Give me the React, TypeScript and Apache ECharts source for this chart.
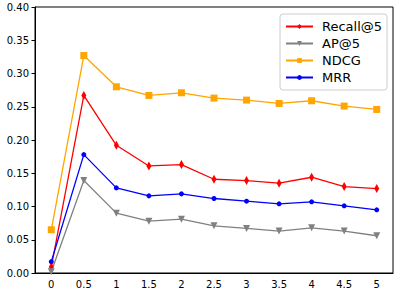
import React, { useEffect, useRef } from "react";
import * as echarts from "echarts";

const categories = ["0", "0.5", "1", "1.5", "2", "2.5", "3", "3.5", "4", "4.5", "5"];
const recall = [0.009, 0.267, 0.192, 0.161, 0.163, 0.141, 0.139, 0.135, 0.144, 0.130, 0.127];
const ap = [0.002, 0.139, 0.090, 0.078, 0.081, 0.071, 0.067, 0.063, 0.068, 0.063, 0.056];
const ndcg = [0.065, 0.327, 0.280, 0.267, 0.271, 0.263, 0.260, 0.255, 0.259, 0.251, 0.246];
const mrr = [0.017, 0.178, 0.128, 0.116, 0.119, 0.112, 0.108, 0.104, 0.107, 0.101, 0.095];

const FONT = "DejaVu Sans";

export default function App() {
  const ref = useRef<HTMLDivElement>(null);
  useEffect(() => {
    const chart = echarts.init(ref.current!, null, { renderer: "svg" });
    const mk = (name: string, data: number[], color: string, symbol: string, size: any, rotate = 0) => ({
      name,
      type: "line",
      data,
      symbol,
      symbolSize: size,
      symbolRotate: rotate,
      lineStyle: { color, width: 1.3 },
      itemStyle: { color },
      z: 2,
    });
    chart.setOption({
      animation: false,
      grid: { left: 35, right: 6, top: 7, bottom: 23, show: true, borderColor: "#000", borderWidth: 1 },
      xAxis: {
        type: "category",
        data: categories,
        boundaryGap: true,
        axisLine: { lineStyle: { color: "#000", width: 1 } },
        axisTick: { alignWithLabel: true, length: 3.5, lineStyle: { color: "#000" } },
        axisLabel: { color: "#000", fontFamily: FONT, fontSize: 10, margin: 6 },
        splitLine: { show: false },
      },
      yAxis: {
        type: "value",
        min: 0,
        max: 0.4,
        interval: 0.05,
        axisLine: { show: true, lineStyle: { color: "#000", width: 1 } },
        axisTick: { show: true, length: 3.5, lineStyle: { color: "#000" } },
        axisLabel: {
          color: "#000",
          fontFamily: FONT,
          fontSize: 10,
          margin: 6,
          formatter: (v: number) => v.toFixed(2),
        },
        splitLine: { show: false },
      },
      legend: {
        orient: "vertical",
        left: 280,
        top: 14,
        padding: [5, 5, 5, 5],
        itemGap: 2,
        itemWidth: 27,
        itemHeight: 6,
        backgroundColor: "#fff",
        borderColor: "#ccc",
        borderWidth: 1,
        borderRadius: 3,
        textStyle: { fontFamily: FONT, fontSize: 13, color: "#000", padding: [0, 0, 0, 4], lineHeight: 15 },
        data: ["Recall@5", "AP@5", "NDCG", "MRR"],
      },
      series: [
        mk("Recall@5", recall, "#ff0000", "diamond", [5, 9]),
        mk("AP@5", ap, "#808080", "triangle", 7, 180),
        mk("NDCG", ndcg, "#ffa500", "rect", 7),
        mk("MRR", mrr, "#0000ff", "circle", 5),
      ],
    });
    return () => chart.dispose();
  }, []);
  return <div ref={ref} style={{ width: 399, height: 296, position: "absolute", left: 0, top: 0 }} />;
}
